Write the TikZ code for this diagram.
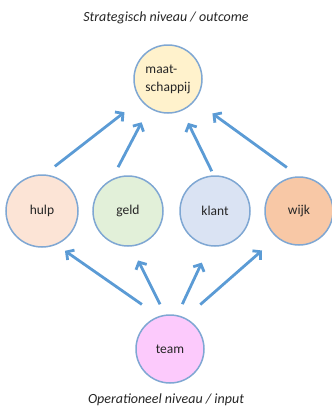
\documentclass[tikz,border=0pt]{standalone}
\usepackage{fontspec}
\setmainfont{Carlito}
\usetikzlibrary{arrows.meta}

\definecolor{pijlblauw}{HTML}{5B9BD5}
\definecolor{randblauw}{HTML}{7FA7D3}
\definecolor{tekstgrijs}{HTML}{262626}

\tikzset{bol/.style={circle,draw=randblauw,line width=1.5pt,inner sep=0pt,text=tekstgrijs,
  font=\fontsize{13.5}{18}\selectfont}}
\tikzset{pijl/.style={pijlblauw,line width=2.8pt,-{Straight Barb[length=5.5pt,width=12pt]}}}

\begin{document}
\begin{tikzpicture}[x=1pt,y=-1pt]
 		\useasboundingbox (0,0) rectangle (332,410);

 		\node[text=tekstgrijs,font=\fontsize{14}{16}\selectfont\itshape] (strat) at (166,18) {Strategisch niveau / outcome};
 		\node[text=tekstgrijs,font=\fontsize{14}{16}\selectfont\itshape] (oper) at (166,400) {Operationeel niveau / input};

 		\node[bol,fill={rgb,255:red,255;green,242;blue,204},minimum size=68pt,align=left] (maat) at (168,79) {maat-\\schappij};

 		\node[bol,fill={rgb,255:red,252;green,228;blue,214},minimum size=72pt] (hulp) at (42,211) {hulp};
 		\node[bol,fill={rgb,255:red,226;green,240;blue,217},minimum size=70pt] (geld) at (128,211) {geld};
 		\node[bol,fill={rgb,255:red,218;green,227;blue,243},minimum size=70pt] (klant) at (215,211) {klant};
 		\node[bol,fill={rgb,255:red,248;green,200;blue,166},minimum size=68pt] (wijk) at (299,211) {wijk};

 		\node[bol,fill={rgb,255:red,252;green,202;blue,252},minimum size=68pt] (team) at (170,349) {team};

 		\draw[pijl,shorten <=13pt, shorten >=20pt] (hulp.86) -- (maat.217);
 		\draw[pijl,shorten <=13.5pt, shorten >=16pt] (geld.117.6) -- (maat.237);
 		\draw[pijl,shorten <=4.5pt, shorten >=13.5pt] (klant.92) -- (maat.294.7);
 		\draw[pijl,shorten <=15pt, shorten >=21.5pt] (wijk.90) -- (maat.321.4);

 		\draw[pijl,shorten <=20.5pt, shorten >=10.5pt] (team.109.4) -- (hulp.293.6);
 		\draw[pijl,shorten <=11.5pt, shorten >=15.5pt] (team.98.4) -- (geld.275);
 		\draw[pijl,shorten <=12pt, shorten >=18pt] (team.78) -- (klant.261);
 		\draw[pijl,shorten <=20pt, shorten >=19.5pt] (team.64.3) -- (wijk.230.8);
 	 \end{tikzpicture}
\end{document}
